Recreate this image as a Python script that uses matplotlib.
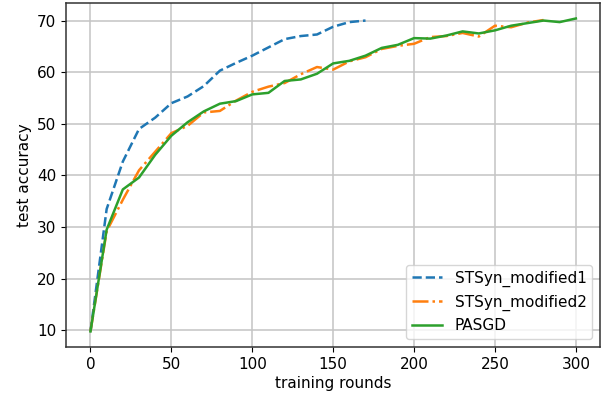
import matplotlib
matplotlib.use("Agg")
import matplotlib.pyplot as plt

# === Dati
rounds_mod1 = list(range(0, 180, 10))
acc_mod1 = [9.8, 33.5, 42.7, 49.0, 51.2, 54.0, 55.3, 57.3, 60.3, 61.8,
            63.2, 64.8, 66.4, 67.0, 67.3, 68.8, 69.7, 70.0]

rounds_mod2 = list(range(0, 290, 10))
acc_mod2 = [9.8, 29.2, 35.3, 41.0, 44.6, 48.2, 49.6, 52.2, 52.5, 54.5,
            56.2, 57.2, 57.9, 59.6, 61.0, 60.5, 62.1, 62.9, 64.5, 65.1,
            65.5, 66.8, 67.0, 67.6, 66.9, 69.0, 68.7, 69.6, 70.1]

rounds_pasgd = list(range(0, 310, 10))
acc_pasgd = [9.8, 29.5, 37.3, 39.6, 44.0, 47.7, 50.3, 52.4, 53.9, 54.4,
             55.7, 56.0, 58.3, 58.6, 59.7, 61.7, 62.2, 63.2, 64.7, 65.3,
             66.6, 66.5, 67.1, 67.9, 67.5, 68.1, 69.0, 69.5, 70.0, 69.7, 70.4]

plt.rcParams["font.size"] = 11
plt.rcParams["axes.edgecolor"] = "#333333"
plt.rcParams["axes.linewidth"] = 1.1

fig = plt.figure(figsize=(6.13, 4.05), dpi=100)
ax = fig.add_axes([0.108, 0.143, 0.871, 0.85])
ax.plot(rounds_mod1, acc_mod1, "--", lw=1.8, label="STSyn_modified1")
ax.plot(rounds_mod2, acc_mod2, "-.", lw=1.8, label="STSyn_modified2")
ax.plot(rounds_pasgd, acc_pasgd, "-", lw=1.8, label="PASGD")
ax.set_xlabel("training rounds", labelpad=3)
ax.set_ylabel("test accuracy")
ax.grid(True, color="#c4c4c4", lw=1.1)
ax.legend(loc="lower right")

fig.savefig("out.png", dpi=100)
